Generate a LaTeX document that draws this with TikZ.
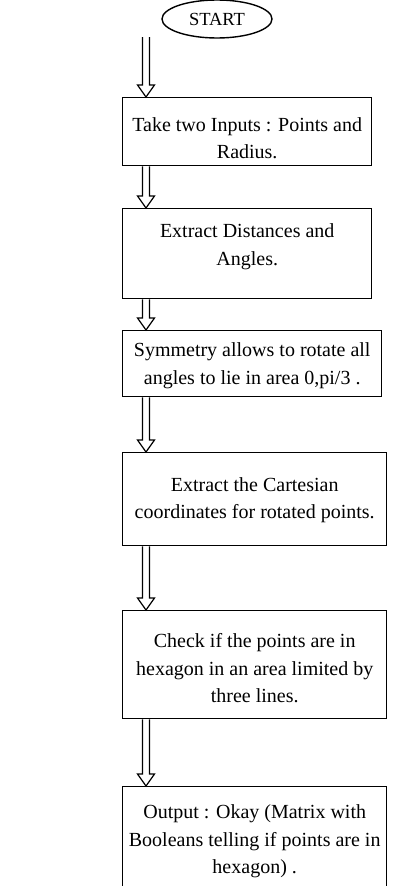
\documentclass[tikz,border=0pt]{standalone}
\usepackage{fontspec}
\setmainfont{Liberation Serif}
\usetikzlibrary{calc,shapes.geometric}
\tikzset{
  box/.style={draw, line width=1.4pt, anchor=north west, inner sep=0pt},
  boxtext/.style={align=center, inner sep=0pt,
    font=\fontsize{20}{27.5}\selectfont},
  startnode/.style={draw, ellipse, line width=1.4pt, minimum width=110pt,
    minimum height=38pt, inner sep=0pt, font=\fontsize{18.5}{22}\selectfont},
  blk/.style={line width=1.2pt, line join=miter, fill=white},
}
% hollow block arrow from (#1) down to the tip at (#2)
\newcommand\blockarrow[2]{%
  \draw[blk] let \p1=(#1), \p2=(#2) in
    (\x1-3.5pt,\y1) -- (\x1-3.5pt,\y2+12pt) -- (\x1-8.5pt,\y2+12pt) --
    (\x2,\y2) -- (\x1+8.5pt,\y2+12pt) -- (\x1+3.5pt,\y2+12pt) --
    (\x1+3.5pt,\y1);}
\begin{document}
\begin{tikzpicture}[x=1pt,y=1pt]
\clip (0,0) rectangle (399,-886);
\fill[white] (0,0) rectangle (399,-886);

\node[startnode] (start) at (217,-19) {START};

% process boxes
\node[box, minimum width=249pt, minimum height=68pt]  (b1) at (122,-97)  {};
\node[box, minimum width=249pt, minimum height=90pt]  (b2) at (122,-208) {};
\node[box, minimum width=259pt, minimum height=66pt]  (b3) at (122,-330) {};
\node[box, minimum width=264pt, minimum height=93pt]  (b4) at (122,-452) {};
\node[box, minimum width=264pt, minimum height=108pt] (b5) at (122,-610) {};
\node[box, minimum width=264pt, minimum height=118pt] (b6) at (122,-786) {};

% box captions
\node[boxtext] (t1) at ($(b1.center)+(0,-6.5)$)
  {Take two Inputs : Points and\\Radius.};
\node[boxtext] (t2) at ($(b2.center)+(0,7)$)
  {Extract Distances and\\Angles.};
\node[boxtext] (t3) at ($(b3.center)+(0,-2)$)
  {Symmetry allows to rotate all\\angles to lie in area 0,pi/3 .};
\node[boxtext] (t4) at ($(b4.center)+(0,-1)$)
  {Extract the Cartesian\\coordinates for rotated points.};
\node[boxtext] (t5) at ($(b5.center)+(0,-3.5)$)
  {Check if the points are in\\hexagon in an area limited by\\three lines.};
\node[boxtext] (t6) at ($(b6.center)+(0,4)$)
  {Output : Okay (Matrix with\\Booleans telling if points are in\\hexagon) .};

% connectors
\coordinate (ax) at (146,0);
\coordinate (s0) at (146,-37);
\blockarrow{s0}{b1.north -| ax}
\blockarrow{b1.south -| ax}{b2.north -| ax}
\blockarrow{b2.south -| ax}{b3.north -| ax}
\blockarrow{b3.south -| ax}{b4.north -| ax}
\blockarrow{b4.south -| ax}{b5.north -| ax}
\blockarrow{b5.south -| ax}{b6.north -| ax}
\end{tikzpicture}
\end{document}
